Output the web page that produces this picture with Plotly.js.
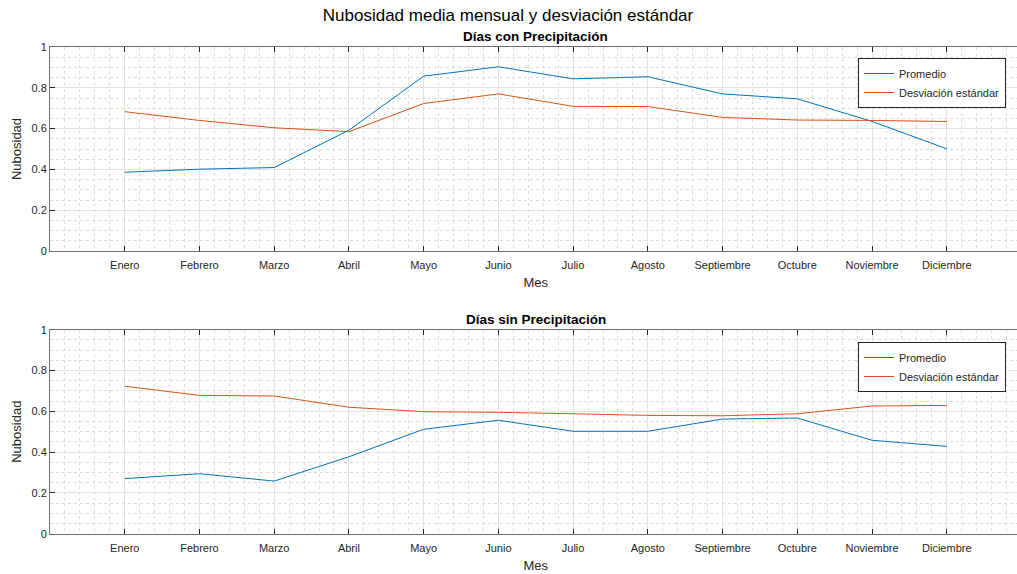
<!DOCTYPE html>
<html>
<head>
<meta charset="utf-8">
<script src="https://cdn.plot.ly/plotly-3.0.1.min.js"></script>
<style>
html,body{margin:0;padding:0;overflow:hidden;background:#fff;}
#chart{width:1030px;height:574px;}
</style>
</head>
<body>
<div id="chart"></div>
<script>
// ---- data ----
const months = ['Enero','Febrero','Marzo','Abril','Mayo','Junio','Julio','Agosto','Septiembre','Octubre','Noviembre','Diciembre'];
const monthIdx = [1,2,3,4,5,6,7,8,9,10,11,12];
const conPromedio = [0.386,0.401,0.409,0.592,0.857,0.903,0.844,0.854,0.770,0.746,0.635,0.501];
const conDesv     = [0.683,0.640,0.604,0.585,0.723,0.770,0.709,0.708,0.655,0.642,0.640,0.635];
const sinPromedio = [0.270,0.294,0.258,0.377,0.512,0.556,0.502,0.502,0.562,0.567,0.458,0.428];
const sinDesv     = [0.723,0.678,0.675,0.620,0.598,0.595,0.588,0.580,0.578,0.588,0.626,0.629];
const yTicks = [0,0.2,0.4,0.6,0.8,1];
const yTickText = ['0','0.2','0.4','0.6','0.8','1'];

const W = 1030, H = 574;
const BLUE = '#0072BD', ORANGE = '#D95319';
const FONT = 'Liberation Sans, Arial, Helvetica, sans-serif';
const AX = '#262626';

function xAxis(){
  return {
    domain:[50/W, 1021.5/W], range:[0,13], type:'linear',
    tickvals: monthIdx, ticktext: months,
    ticks:'inside', ticklen:5, tickcolor:AX, tickwidth:1,
    showline:true, linecolor:'#6e6e6e', linewidth:1, mirror:'ticks',
    showgrid:true, gridcolor:'#e3e3e3', gridwidth:1, zeroline:false,
    tickfont:{family:FONT,size:11,color:AX}, ticklabelstandoff:4,
    minor:{dtick:0.2, tick0:0, showgrid:true, gridcolor:'#dcdcdc', griddash:'dot', gridwidth:1, ticks:''},
    title:{text:'Mes', font:{family:FONT,size:13,color:AX}, standoff:7},
    fixedrange:true
  };
}
function yAxis(dom){
  return {
    domain:dom, range:[0,1], tickvals:yTicks, ticktext:yTickText,
    ticks:'inside', ticklen:5, tickcolor:AX, tickwidth:1,
    showline:true, linecolor:'#6e6e6e', linewidth:1, mirror:'ticks',
    showgrid:true, gridcolor:'#e3e3e3', gridwidth:1, zeroline:false,
    tickfont:{family:FONT,size:11,color:AX},
    minor:{dtick:0.05, tick0:0, showgrid:true, gridcolor:'#dcdcdc', griddash:'dot', gridwidth:1, ticks:''},
    title:{text:'Nubosidad', font:{family:FONT,size:13,color:AX}, standoff:6},
    fixedrange:true
  };
}

const traces = [
  {x:monthIdx, y:conPromedio, name:'Promedio', mode:'lines', line:{color:BLUE,width:1}, xaxis:'x', yaxis:'y', legend:'legend'},
  {x:monthIdx, y:conDesv, name:'Desviación estándar', mode:'lines', line:{color:ORANGE,width:1}, xaxis:'x', yaxis:'y', legend:'legend'},
  {x:monthIdx, y:sinPromedio, name:'Promedio', mode:'lines', line:{color:BLUE,width:1}, xaxis:'x2', yaxis:'y2', legend:'legend2'},
  {x:monthIdx, y:sinDesv, name:'Desviación estándar', mode:'lines', line:{color:ORANGE,width:1}, xaxis:'x2', yaxis:'y2', legend:'legend2'}
];

const legendBase = {
  xref:'paper', yref:'paper', xanchor:'left', yanchor:'top',
  bgcolor:'#ffffff', bordercolor:AX, borderwidth:1,
  font:{family:FONT,size:11,color:AX}, tracegroupgap:0, itemwidth:30
};

const xa2 = xAxis(); xa2.anchor = 'y2';
const xa1 = xAxis(); xa1.anchor = 'y';

const layout = {
  width:W, height:H,
  margin:{l:0,r:0,t:0,b:0},
  paper_bgcolor:'#ffffff', plot_bgcolor:'#ffffff',
  showlegend:true,
  title:{text:'Nubosidad media mensual y desviación estándar', font:{family:FONT,size:17,color:'#000'},
         x:508/W, xanchor:'center', xref:'paper', y:1-15/H, yanchor:'middle', yref:'container'},
  xaxis:xa1,
  yaxis:Object.assign(yAxis([1-251/H, 1-47/H]), {anchor:'x'}),
  xaxis2:xa2,
  yaxis2:Object.assign(yAxis([1-533.7/H, 1-329.7/H]), {anchor:'x2'}),
  legend:Object.assign({}, legendBase, {x:858/W, y:1-58/H}),
  legend2:Object.assign({}, legendBase, {x:858/W, y:1-342/H}),
  annotations:[
    {text:'<b>Días con Precipitación</b>', xref:'paper', yref:'paper', x:535.7/W, y:1-36/H, xanchor:'center', yanchor:'middle', showarrow:false, font:{family:FONT,size:13.5,color:'#000'}},
    {text:'<b>Días sin Precipitación</b>', xref:'paper', yref:'paper', x:535.7/W, y:1-319/H, xanchor:'center', yanchor:'middle', showarrow:false, font:{family:FONT,size:13.5,color:'#000'}}
  ]
};

Plotly.newPlot('chart', traces, layout, {displayModeBar:false, staticPlot:true});
</script>
</body>
</html>
